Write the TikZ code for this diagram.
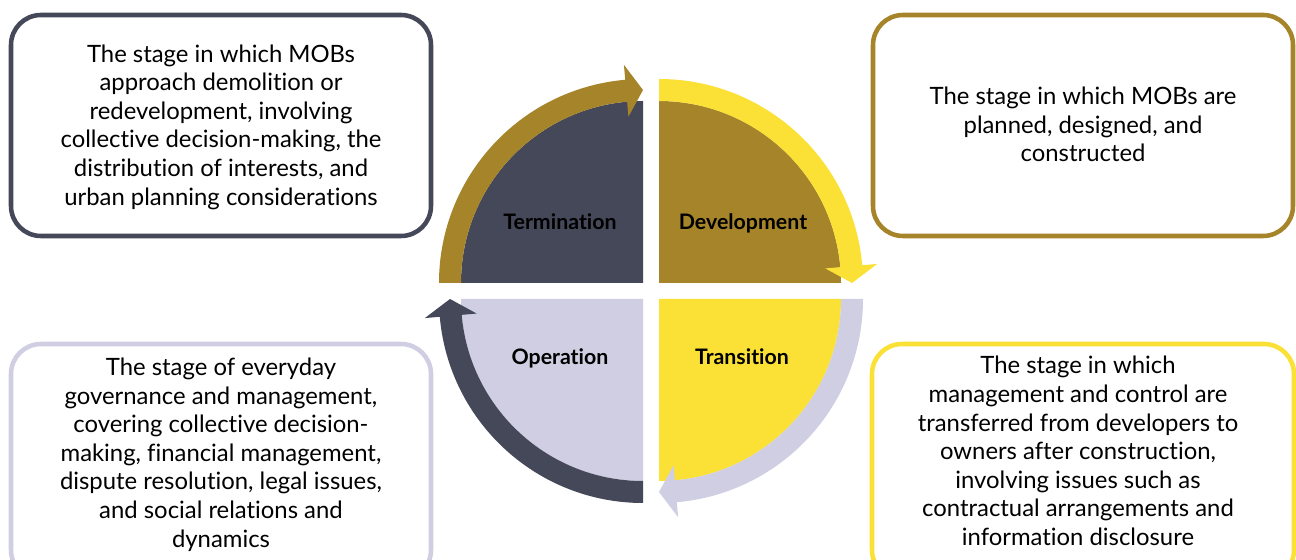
\documentclass[tikz,border=0pt]{standalone}
\usepackage{fontspec}
\setmainfont{Lato}[Ligatures=NoCommon]
\usetikzlibrary{calc}
\definecolor{slate}{HTML}{454858}
\definecolor{ochre}{HTML}{A6852A}
\definecolor{sun}{HTML}{FBE136}
\definecolor{lilac}{HTML}{D0CEE2}
\begin{document}
\begin{tikzpicture}[x=0.75pt,y=0.75pt,
  card/.style={line width=3.4pt, rounded corners=22.5pt},
  cardtext/.style={align=center, inner sep=0pt, font=\fontsize{17.9}{21.45}\selectfont},
  stagelabel/.style={inner sep=0pt, anchor=base, font=\fontsize{16}{18}\selectfont\bfseries}]
\clip (0,0) rectangle (1296,560);
\fill[white] (0,0) rectangle (1296,560);

% centres of the four quarter discs
\coordinate (cT) at (643,277);
\coordinate (cD) at (659,277);
\coordinate (cO) at (643,261);
\coordinate (cR) at (659,261);

% quarter discs
\fill[slate] (cT) -- ($(cT)+(180:182)$) arc[start angle=180,end angle=90,radius=182] -- cycle;
\fill[ochre] (cD) -- ($(cD)+(90:182)$) arc[start angle=90,end angle=0,radius=182] -- cycle;
\fill[lilac] (cO) -- ($(cO)+(270:182)$) arc[start angle=270,end angle=180,radius=182] -- cycle;
\fill[sun]   (cR) -- ($(cR)+(0:182)$) arc[start angle=0,end angle=-90,radius=182] -- cycle;

% curved arrows running clockwise round the discs
\fill[ochre] ($(cT)+(180:204)$) arc[start angle=180,end angle=95,radius=204]
  -- ($(cT)+(95:219)$) -- ($(cT)+(90:193)$) -- ($(cT)+(95:167)$) -- ($(cT)+(95:182)$)
  arc[start angle=95,end angle=180,radius=182] -- cycle;
\fill[sun] ($(cD)+(90:204)$) arc[start angle=90,end angle=5,radius=204]
  -- ($(cD)+(5:219)$) -- ($(cD)+(0:193)$) -- ($(cD)+(5:167)$) -- ($(cD)+(5:182)$)
  arc[start angle=5,end angle=90,radius=182] -- cycle;
\fill[lilac] ($(cR)+(0:204)$) arc[start angle=0,end angle=-85,radius=204]
  -- ($(cR)+(-85:219)$) -- ($(cR)+(-90:193)$) -- ($(cR)+(-85:167)$) -- ($(cR)+(-85:182)$)
  arc[start angle=-85,end angle=0,radius=182] -- cycle;
\fill[slate] ($(cO)+(270:204)$) arc[start angle=270,end angle=185,radius=204]
  -- ($(cO)+(185:219)$) -- ($(cO)+(180:193)$) -- ($(cO)+(185:167)$) -- ($(cO)+(185:182)$)
  arc[start angle=185,end angle=270,radius=182] -- cycle;

% stage names
\node[stagelabel] (termination) at (560,330) {Termination};
\node[stagelabel] (development) at (743,330) {Development};
\node[stagelabel] (operation) at (560,195) {Operation};
\node[stagelabel] (transition) at (742,195) {Transition};

% description cards
\draw[card, slate] (11,324) rectangle (431,545);
\draw[card, ochre] (873,324) rectangle (1293,545);
\draw[card, lilac] (11,-20) rectangle (431,216);
\draw[card, sun]   (872,-20) rectangle (1294,216);

\node[cardtext] (termtext) at (221,433) {The stage in which MOBs\\approach demolition or\\redevelopment, involving\\collective decision-making, the\\distribution of interests, and\\urban planning considerations};
\node[cardtext] (devtext) at (1083,435.5) {The stage in which MOBs are\\planned, designed, and\\constructed};
\node[cardtext] (optext) at (221,105.5) {The stage of everyday\\governance and management,\\covering collective decision-\\making, financial management,\\dispute resolution, legal issues,\\and social relations and\\dynamics};
\node[cardtext] (transtext) at (1078,109) {The stage in which\\management and control are\\transferred from developers to\\owners after construction,\\involving issues such as\\contractual arrangements and\\information disclosure};
\end{tikzpicture}
\end{document}
